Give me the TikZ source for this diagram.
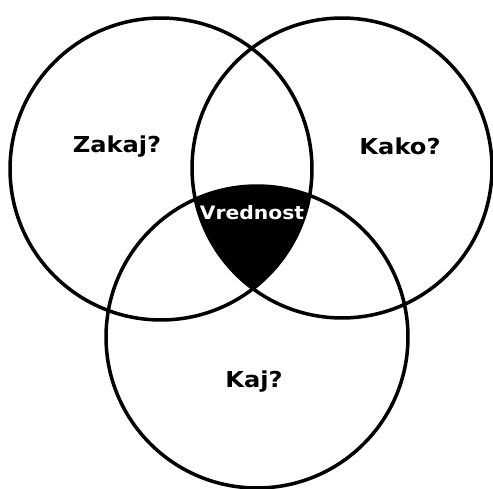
\documentclass[tikz,border=0pt]{standalone}
\usepackage{fontspec}
\newfontfamily\vennfont[FakeStretch=1.1]{DejaVu Sans}
\usetikzlibrary{positioning}

\begin{document}
\begin{tikzpicture}[
    x=0.02cm, y=-0.02cm,
    ring/.style={draw=black, line width=2pt},
    question/.style={font=\vennfont\bfseries\fontsize{12.5}{14}\selectfont, text=black, inner sep=0pt},
    core/.style={font=\vennfont\bfseries\fontsize{10.5}{12}\selectfont, text=white, inner sep=0pt}
]
\useasboundingbox (0,0) rectangle (493,489);

% Circle centres
\coordinate (zc) at (161,169);
\coordinate (kc) at (342,168);
\coordinate (jc) at (257,337);

% Common part of all three
\begin{scope}
    \clip (zc) circle[radius=3.02cm];
    \clip (kc) circle[radius=3.00cm];
    \fill[black] (jc) circle[radius=3.02cm];
\end{scope}

% Circles
\draw[ring] (zc) circle[radius=3.02cm];
\draw[ring] (kc) circle[radius=3.00cm];
\draw[ring] (jc) circle[radius=3.02cm];

% Labels
\node[question] (zakaj) at (117,147) {Zakaj?};
\node[question] (kako) at (400,146) {Kako?};
\node[question] (kaj) at (254,382) {Kaj?};
\node[core] (vrednost) at (252,213) {Vrednost};

\end{tikzpicture}
\end{document}
